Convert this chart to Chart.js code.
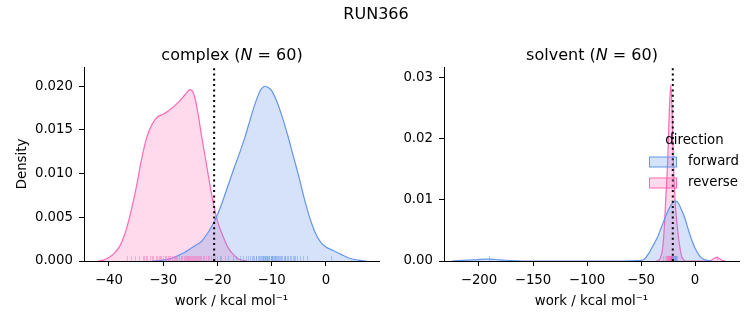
<!DOCTYPE html>
<html>
<head>
<meta charset="utf-8">
<script src="https://cdn.jsdelivr.net/npm/chart.js@4"></script>
<style>
  body { margin: 0; background: #fff; }
  #fig { position: relative; width: 753px; height: 325px; font-family: "DejaVu Sans", sans-serif; color: #000; }
  #fig canvas { position: absolute; top: 0; }
  .txt { position: absolute; transform: translate(-50%, -50%); white-space: nowrap; font-size: 16px; }
</style>
</head>
<body>
<div id="fig">
  <canvas id="complexChart" width="380" height="325" style="left:0"></canvas>
  <canvas id="solventChart" width="373" height="325" style="left:380px"></canvas>
  <div class="txt" style="left:376px; top:13px">RUN366</div>
  <div class="txt" style="left:232px; top:54px">complex (<i>N</i> = 60)</div>
  <div class="txt" style="left:592px; top:54px">solvent (<i>N</i> = 60)</div>
</div>
<script>
// complex leg: KDE curves
const complexFwdX = [-32, -30, -28, -27, -26, -25, -24, -23, -22, -21, -20, -19, -18, -17, -16, -15, -14, -13, -12, -11.2, -10.5, -10, -9, -8, -7, -6, -5, -4, -3, -2, -1, 0, 1, 2, 3, 4, 5, 6, 7.5];
const complexFwdY = [0, 0.0001, 0.0004, 0.0007, 0.0010, 0.0014, 0.0018, 0.0022, 0.0030, 0.0040, 0.0053, 0.0069, 0.0087, 0.0105, 0.0122, 0.0140, 0.0161, 0.0181, 0.0196, 0.0200, 0.0198, 0.0195, 0.0182, 0.0164, 0.0143, 0.0120, 0.0097, 0.0072, 0.0050, 0.0033, 0.0022, 0.0016, 0.0013, 0.0010, 0.0007, 0.0004, 0.0002, 0.0001, 0];
const complexRevX = [-42, -41, -40, -39, -38, -37, -36, -35, -34, -33, -32, -31, -30, -29, -28, -27, -26, -25, -24.2, -23.5, -23, -22, -21, -20, -19, -18, -17, -16, -14.5];
const complexRevY = [0, 0.0001, 0.0004, 0.0009, 0.0017, 0.0032, 0.0055, 0.0083, 0.0116, 0.0142, 0.0157, 0.0165, 0.0168, 0.0172, 0.0177, 0.0183, 0.0190, 0.0196, 0.0188, 0.0166, 0.0146, 0.0110, 0.0074, 0.0046, 0.0029, 0.0015, 0.0007, 0.0002, 0];
const complexFwdRug = [-19.5, -18.0, -17.2, -16.5, -15.8, -15.2, -14.7, -14.3, -14.0, -13.7, -13.5, -13.2, -12.9, -12.8, -12.6, -12.3, -12.1, -12.0, -11.8, -11.6, -11.5, -11.4, -11.3, -11.2, -11.0, -10.9, -10.8, -10.6, -10.5, -10.4, -10.2, -10.1, -10.0, -9.9, -9.8, -9.6, -9.4, -9.3, -9.2, -9.0, -8.9, -8.7, -8.4, -8.2, -8.1, -7.8, -7.6, -7.5, -7.2, -6.9, -6.7, -6.5, -6.1, -5.9, -5.7, -5.3, -4.8, -4.2, -3.5, 1.0];
const complexRevRug = [-36.7, -36.0, -35.2, -34.4, -33.8, -33.5, -33.2, -32.9, -32.5, -32.1, -31.8, -31.4, -31.1, -30.8, -30.6, -30.4, -30.1, -29.7, -29.4, -29.2, -29.0, -28.7, -28.3, -28.0, -27.9, -27.7, -27.4, -27.1, -26.8, -26.5, -26.2, -26.0, -25.8, -25.6, -25.5, -25.4, -25.2, -25.0, -24.8, -24.6, -24.5, -24.4, -24.2, -24.0, -23.8, -23.6, -23.4, -23.3, -23.0, -22.7, -22.4, -22.1, -21.8, -21.5, -21.2, -20.9, -20.5, -20.0, -19.4, -18.6];

// solvent leg
const solventFwdX = [-225, -215, -205, -195, -190, -185, -175, -165, -155, -70, -60, -55, -50, -47, -43, -38.6, -35, -31, -27, -24, -21, -18.5, -16, -12.3, -9, -6, -3, 0, 4, 8, 12, 16];
const solventFwdY = [0, 0.0001, 0.0002, 0.0003, 0.0003, 0.00025, 0.00012, 0.00004, 0, 0, 0.00003, 0.00006, 0.0001, 0.0003, 0.0012, 0.0026, 0.0038, 0.0056, 0.0074, 0.0086, 0.0095, 0.0098, 0.0096, 0.0083, 0.0068, 0.0050, 0.0034, 0.0021, 0.0009, 0.0003, 0.00008, 0];
const solventRevX = [-36, -33, -31.8, -30, -28.4, -27, -25.3, -24, -22.5, -21.3, -20.1, -18.5, -16.4, -14, -12.3, -10, -8, 12, 15, 17.5, 20, 22.5, 25, 28];
const solventRevY = [0, 0.0002, 0.0007, 0.0020, 0.0056, 0.0105, 0.0165, 0.0235, 0.0288, 0.0250, 0.0165, 0.0100, 0.0056, 0.0022, 0.0007, 0.0001, 0, 0, 0.0001, 0.0004, 0.0006, 0.0004, 0.0001, 0];
const solventFwdRug = [-190.5, -22.0, -21.0, -20.3, -19.8, -19.3, -18.9, -18.5, -18.1, -17.7, -17.3, -16.8];
const solventRevRug = [-29.5, -27.5, -26.8, -26.2, -25.8, -25.4, -25.0, -24.7, -24.4, -24.1, -23.8, -23.5, -23.3, -23.0, -22.8, -22.6, -22.4, -22.2, -22.0, -21.8, -21.6, -21.4, -21.2, -21.0, -20.8, -20.5, 20.0];

// dotted reference line (same value on both panels)
const refWork = -20.6;

const complexXTicks = [-40, -30, -20, -10, 0];
const complexYTicks = [0, 0.005, 0.010, 0.015, 0.020];
const solventXTicks = [-200, -150, -100, -50, 0];
const solventYTicks = [0, 0.01, 0.02, 0.03];

const directions = ["forward", "reverse"];

const FWD = "#6495ED", REV = "#FF69B4";
const FWD_FILL = "rgba(100,149,237,0.27)", REV_FILL = "rgba(255,105,180,0.25)";
const FWD_RUG = "rgba(100,149,237,0.45)", REV_RUG = "rgba(255,105,180,0.45)";

Chart.defaults.font.family = "'DejaVu Sans', sans-serif";
Chart.defaults.font.size = 13.3;
Chart.defaults.color = "#000";

function toPoints(xs, ys) {
  return xs.map((x, i) => ({ x: x, y: ys[i] }));
}

function minus(v) {
  return v < 0 ? "\u2212" + Math.abs(v) : String(v);
}

// rug ticks along the bottom plus the dotted vertical line
function rugPlugin(rugs, ref) {
  return {
    id: "rug",
    afterDatasetsDraw(chart) {
      const { ctx, chartArea, scales } = chart;
      ctx.save();
      ctx.lineWidth = 1;
      rugs.forEach(r => {
        ctx.strokeStyle = r.color;
        r.values.forEach(v => {
          const px = Math.round(scales.x.getPixelForValue(v)) + 0.5;
          ctx.beginPath();
          ctx.moveTo(px, chartArea.bottom);
          ctx.lineTo(px, chartArea.bottom - 5);
          ctx.stroke();
        });
      });
      const lx = scales.x.getPixelForValue(ref);
      ctx.strokeStyle = "#000";
      ctx.lineWidth = 2;
      ctx.setLineDash([2, 3.3]);
      ctx.beginPath();
      ctx.moveTo(lx, chartArea.bottom);
      ctx.lineTo(lx, chartArea.top);
      ctx.stroke();
      ctx.restore();
    }
  };
}

const legendPlugin = {
  id: "dirLegend",
  afterDraw(chart) {
    const ctx = chart.ctx;
    ctx.save();
    ctx.font = "13.3px 'DejaVu Sans'";
    ctx.fillStyle = "#000";
    ctx.textBaseline = "middle";
    ctx.textAlign = "center";
    ctx.fillText("direction", 314.5, 141);
    ctx.textAlign = "left";
    const colors = [[FWD, FWD_FILL], [REV, REV_FILL]];
    directions.forEach((d, i) => {
      const y = 162 + i * 21;
      ctx.fillStyle = colors[i][1];
      ctx.fillRect(269.5, y - 5, 27, 10);
      ctx.strokeStyle = colors[i][0];
      ctx.lineWidth = 1;
      ctx.strokeRect(269.5, y - 5, 27, 10);
      ctx.fillStyle = "#000";
      ctx.fillText(d, 308, y);
    });
    ctx.restore();
  }
};

function makeChart(id, cfg) {
  const kde = (label, xs, ys, line, fill) => ({
    label: label,
    data: toPoints(xs, ys),
    borderColor: line,
    backgroundColor: fill,
    borderWidth: 1.2,
    fill: "origin",
    pointRadius: 0,
    cubicInterpolationMode: "monotone"
  });
  const plugins = [rugPlugin(cfg.rugs, refWork)];
  if (cfg.legend) plugins.push(legendPlugin);
  return new Chart(document.getElementById(id), {
    type: "line",
    data: {
      datasets: [
        kde("forward", cfg.fwdX, cfg.fwdY, FWD, FWD_FILL),
        kde("reverse", cfg.revX, cfg.revY, REV, REV_FILL)
      ]
    },
    options: {
      responsive: false,
      animation: false,
      events: [],
      layout: { padding: { left: 0, right: cfg.padRight, top: 67, bottom: 0 } },
      plugins: { legend: { display: false }, tooltip: { enabled: false }, title: { display: false } },
      scales: {
        x: {
          type: "linear",
          min: cfg.xMin,
          max: cfg.xMax,
          afterBuildTicks: s => { s.ticks = cfg.xTicks.map(v => ({ value: v })); },
          afterFit: s => { s.height = 64; },
          ticks: { callback: v => minus(v), padding: 7, maxRotation: 0, autoSkip: false },
          grid: { display: true, drawOnChartArea: false, drawTicks: true, tickLength: 5, tickColor: "#000", color: "#000" },
          border: { display: true, color: "#000", width: 1 },
          title: { display: true, text: "work / kcal mol\u207B\u00B9", padding: { top: 0, bottom: 15 } }
        },
        y: {
          type: "linear",
          min: 0,
          max: cfg.yMax,
          afterBuildTicks: s => { s.ticks = cfg.yTicks.map(v => ({ value: v })); },
          afterFit: s => { s.width = cfg.yWidth; },
          ticks: { callback: v => v.toFixed(cfg.yDigits), padding: 6, autoSkip: false },
          grid: { display: true, drawOnChartArea: false, drawTicks: true, tickLength: 5, tickColor: "#000", color: "#000" },
          border: { display: true, color: "#000", width: 1 },
          title: { display: cfg.yTitle, text: "Density", padding: { top: 15, bottom: 0 } }
        }
      }
    },
    plugins: plugins
  });
}

makeChart("complexChart", {
  fwdX: complexFwdX, fwdY: complexFwdY, revX: complexRevX, revY: complexRevY,
  rugs: [{ values: complexRevRug, color: REV_RUG }, { values: complexFwdRug, color: FWD_RUG }],
  xMin: -44.6, xMax: 9.8, yMax: 0.0222,
  xTicks: complexXTicks, yTicks: complexYTicks, yDigits: 3,
  yWidth: 84, padRight: 1, yTitle: true, legend: false
});

makeChart("solventChart", {
  fwdX: solventFwdX, fwdY: solventFwdY, revX: solventRevX, revY: solventRevY,
  rugs: [{ values: solventRevRug, color: REV_RUG }, { values: solventFwdRug, color: FWD_RUG }],
  xMin: -232.4, xMax: 40.7, yMax: 0.0318,
  xTicks: solventXTicks, yTicks: solventYTicks, yDigits: 2,
  yWidth: 64, padRight: 14, yTitle: false, legend: true
});
</script>
</body>
</html>
